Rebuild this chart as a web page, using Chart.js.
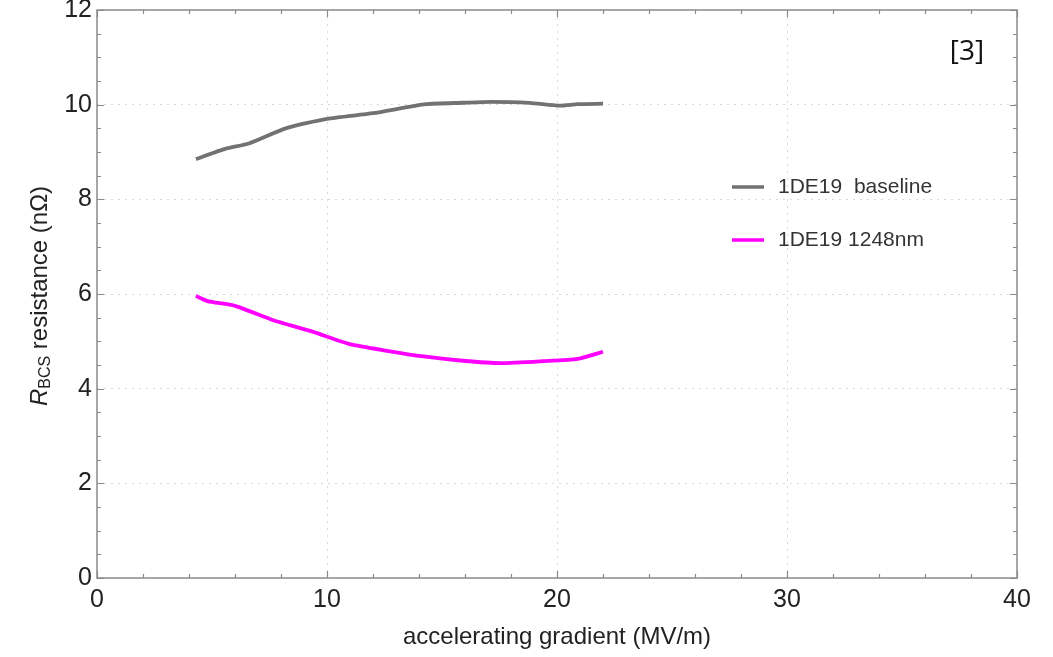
<!DOCTYPE html>
<html><head><meta charset="utf-8">
<script src="https://cdn.jsdelivr.net/npm/chart.js@4/dist/chart.umd.min.js"></script>
<style>html,body{margin:0;padding:0;background:#fff;}#wrap{width:1053px;height:657px;}</style>
</head><body><div id="wrap"><canvas id="c" width="1053" height="657"></canvas></div>
<script>
// ---- data ----
const baselineLabel = '1DE19  baseline';
const baselineGradient = [4.3, 5.6, 6.6, 8.2, 10.0, 12.0, 14.3, 15.9, 17.1, 18.8, 20.1, 20.9, 22.0];
const baselineResistance = [8.85, 9.07, 9.18, 9.50, 9.70, 9.82, 10.01, 10.04, 10.06, 10.04, 9.98, 10.01, 10.02];

const laserLabel = '1DE19 1248nm';
const laserGradient = [4.3, 4.8, 6.0, 7.7, 9.4, 11.0, 12.6, 14.2, 15.9, 17.6, 19.4, 20.9, 22.0];
const laserResistance = [5.96, 5.85, 5.75, 5.44, 5.20, 4.94, 4.80, 4.68, 4.59, 4.54, 4.58, 4.63, 4.78];

const xTickValues = [0, 10, 20, 30, 40];
const yTickValues = [0, 2, 4, 6, 8, 10, 12];
const xTitle = 'accelerating gradient (MV/m)';
const yTitleMain = 'R', yTitleSub = 'BCS', yTitleRest = ' resistance (nΩ)';
const refNote = '[3]';

// ---- chart ----
const FONT = '"Liberation Sans", Arial, sans-serif';
const toPts = (xs, ys) => xs.map((v, i) => ({x: v, y: ys[i]}));

const decor = {
  id: 'decor',
  afterDraw(chart) {
    const {ctx, chartArea: a, scales: {x, y}} = chart;
    ctx.save();
    // frame
    ctx.strokeStyle = '#8a8a8a';
    ctx.lineWidth = 1.5;
    ctx.strokeRect(a.left, a.top, a.right - a.left, a.bottom - a.top);
    // inward ticks (major + minor) on all four sides
    ctx.lineWidth = 1.2;
    ctx.beginPath();
    for (let v = x.min; v <= x.max + 1e-9; v += 2) {
      const px = Math.round(x.getPixelForValue(v)) + 0.5;
      const len = (v % 10 === 0) ? 7 : 4;
      ctx.moveTo(px, a.bottom); ctx.lineTo(px, a.bottom - len);
      ctx.moveTo(px, a.top); ctx.lineTo(px, a.top + len);
    }
    for (let v = y.min; v <= y.max + 1e-9; v += 0.5) {
      const py = Math.round(y.getPixelForValue(v)) + 0.5;
      const len = (Math.abs(v % 2) < 1e-9) ? 7 : 4;
      ctx.moveTo(a.left, py); ctx.lineTo(a.left + len, py);
      ctx.moveTo(a.right, py); ctx.lineTo(a.right - len, py);
    }
    ctx.stroke();

    // x title
    ctx.fillStyle = '#222';
    ctx.font = '24px ' + FONT;
    ctx.textAlign = 'center';
    ctx.textBaseline = 'middle';
    ctx.fillText(xTitle, (a.left + a.right) / 2, 637);

    // y title (rotated, italic R with subscript)
    ctx.save();
    ctx.translate(47, 296);
    ctx.rotate(-Math.PI / 2);
    ctx.textAlign = 'left';
    ctx.textBaseline = 'alphabetic';
    ctx.font = 'italic 24px ' + FONT; const wR = ctx.measureText(yTitleMain).width;
    ctx.font = '16px ' + FONT; const wS = ctx.measureText(yTitleSub).width;
    ctx.font = '24px ' + FONT; const wT = ctx.measureText(yTitleRest).width;
    let cx = -(wR + wS + wT) / 2;
    ctx.font = 'italic 24px ' + FONT; ctx.fillText(yTitleMain, cx, 0); cx += wR;
    ctx.font = '16px ' + FONT; ctx.fillText(yTitleSub, cx, 3); cx += wS;
    ctx.font = '24px ' + FONT; ctx.fillText(yTitleRest, cx, 0);
    ctx.restore();

    // legend
    const rows = [187, 240];
    chart.data.datasets.forEach((ds, i) => {
      const yy = rows[i];
      ctx.strokeStyle = ds.borderColor;
      ctx.lineWidth = 3.5;
      ctx.beginPath(); ctx.moveTo(732, yy); ctx.lineTo(764, yy); ctx.stroke();
      ctx.fillStyle = '#333';
      ctx.font = '21px ' + FONT;
      ctx.textAlign = 'left';
      ctx.textBaseline = 'middle';
      ctx.fillText(ds.label, 778, yy);
    });

    // reference note
    ctx.fillStyle = '#111';
    ctx.font = '28px "Open Sans", "Noto Sans", sans-serif';
    ctx.textAlign = 'center';
    ctx.textBaseline = 'middle';
    ctx.fillText(refNote, 967, 52);
    ctx.restore();
  }
};

new Chart(document.getElementById('c'), {
  type: 'scatter',
  data: {
    datasets: [
      {label: baselineLabel, data: toPts(baselineGradient, baselineResistance), showLine: true,
       borderColor: '#727272', backgroundColor: '#727272', borderWidth: 3.8, pointRadius: 0, tension: 0.2},
      {label: laserLabel, data: toPts(laserGradient, laserResistance), showLine: true,
       borderColor: '#ff00ff', backgroundColor: '#ff00ff', borderWidth: 3.8, pointRadius: 0, tension: 0.2}
    ]
  },
  options: {
    responsive: false,
    animation: false,
    devicePixelRatio: 1,
    layout: {padding: {top: 10, right: 36, left: 0, bottom: 0}},
    plugins: {legend: {display: false}, tooltip: {enabled: false}},
    scales: {
      x: {
        type: 'linear', min: 0, max: 40,
        afterBuildTicks: s => { s.ticks = xTickValues.map(v => ({value: v})); },
        afterFit: s => { s.height = 79; s.paddingLeft = 0; s.paddingRight = 0; },
        ticks: {font: {size: 25, family: FONT}, color: '#222', padding: 7, maxRotation: 0, autoSkip: false},
        grid: {drawTicks: false, lineWidth: 1,
               color: c => (c.tick && (c.tick.value === 0 || c.tick.value === 40)) ? 'rgba(0,0,0,0)' : '#dadada'},
        border: {display: false, dash: [2, 5]}
      },
      y: {
        type: 'linear', min: 0, max: 12,
        afterBuildTicks: s => { s.ticks = yTickValues.map(v => ({value: v})); },
        afterFit: s => { s.width = 97; s.paddingTop = 0; s.paddingBottom = 0; },
        ticks: {font: {size: 25, family: FONT}, color: '#222', padding: 5, autoSkip: false},
        grid: {drawTicks: false, lineWidth: 1,
               color: c => (c.tick && (c.tick.value === 0 || c.tick.value === 12)) ? 'rgba(0,0,0,0)' : '#dadada'},
        border: {display: false, dash: [2, 5]}
      }
    }
  },
  plugins: [decor]
});
</script></body></html>
